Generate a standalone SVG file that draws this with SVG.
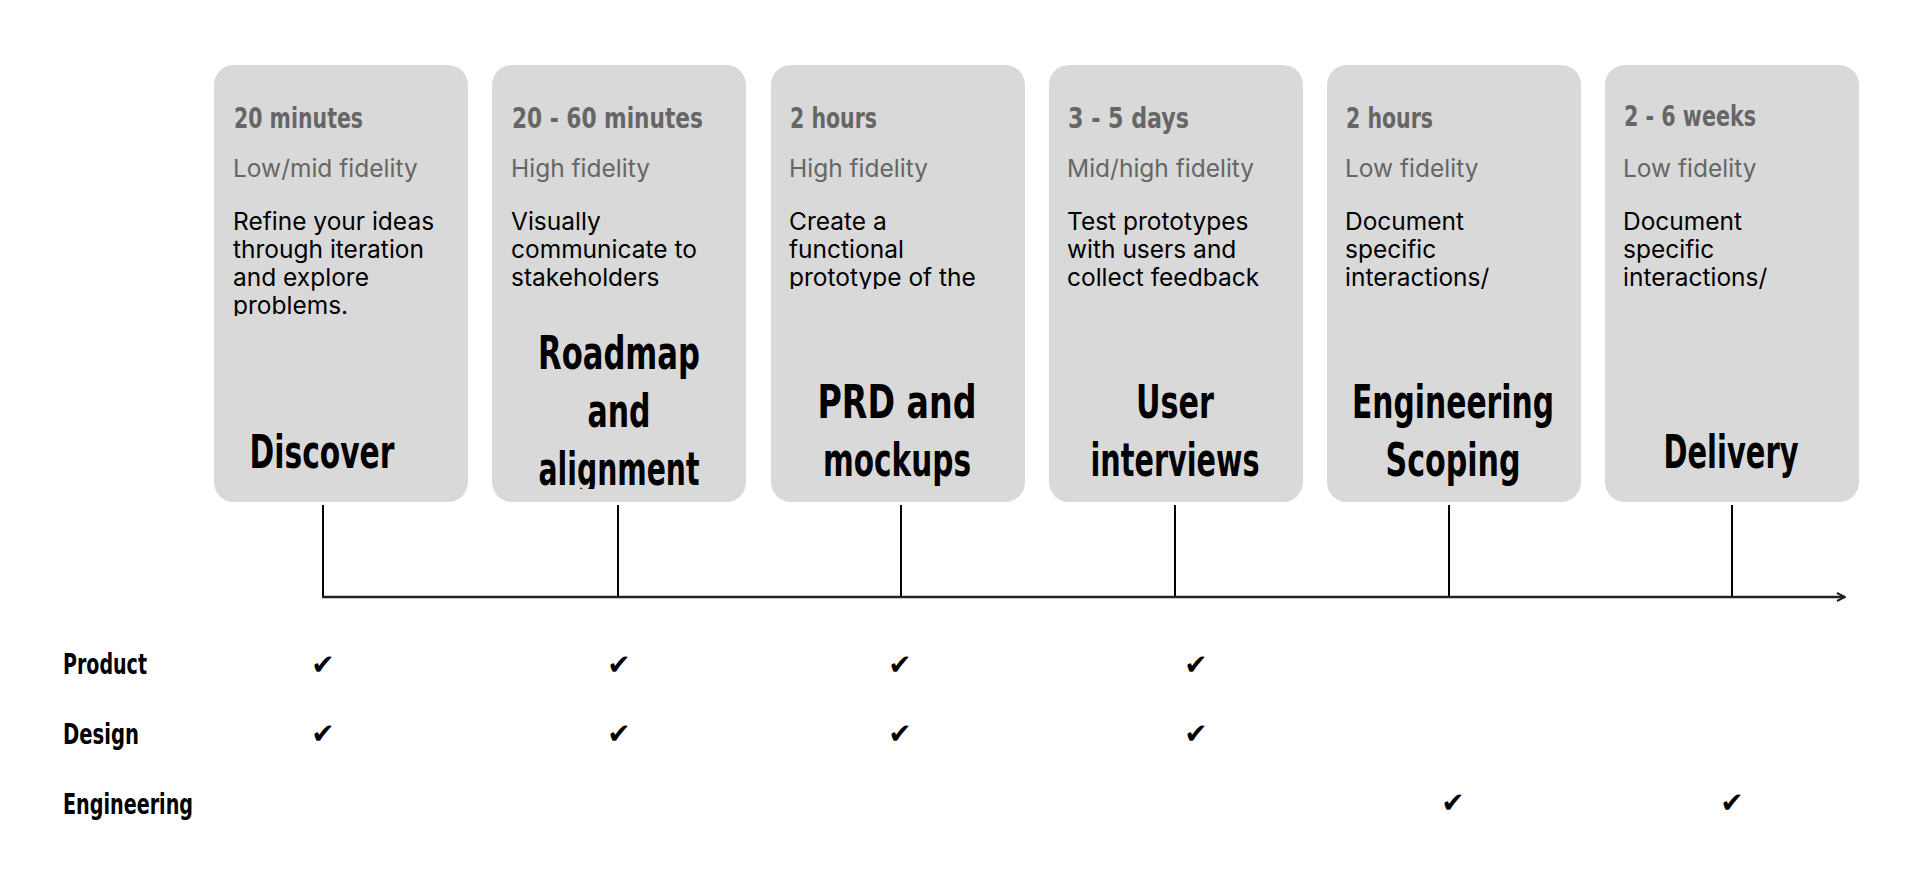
<svg xmlns="http://www.w3.org/2000/svg" width="1920" height="885" viewBox="0 0 1920 885">
<style>
.card{fill:#d9d9d9}
.dur{font-family:"DejaVu Sans Condensed","Liberation Sans",sans-serif;font-weight:bold;font-size:28px;fill:#666}
.fid{font-family:Inter,"Liberation Sans",sans-serif;font-size:24.5px;fill:#666}
.desc{font-family:Inter,"Liberation Sans",sans-serif;font-size:24.5px;fill:#000}
.title{font-family:"DejaVu Sans Condensed","Liberation Sans",sans-serif;font-weight:bold;font-size:46px;fill:#000;text-anchor:middle}
.role{font-family:"DejaVu Sans Condensed","Liberation Sans",sans-serif;font-weight:bold;font-size:29px;fill:#000}
.chk{font-family:"DejaVu Sans",sans-serif;font-size:28px;fill:#000;text-anchor:middle}
.tick{stroke:#000;stroke-width:2;fill:none}
.axis{stroke:#222;stroke-width:2.5;fill:none}
</style>
<defs>
<marker id="arr" viewBox="0 0 10 10" refX="9" refY="5" markerWidth="10" markerHeight="10" markerUnits="userSpaceOnUse" orient="auto">
<path d="M1,1 L9,5 L1,9" fill="none" stroke="#222" stroke-width="2"/>
</marker>
<clipPath id="cd1"><rect x="214" y="200" width="254" height="116"/></clipPath>
<clipPath id="cd2"><rect x="492" y="200" width="254" height="89"/></clipPath>
<clipPath id="cd3"><rect x="771" y="200" width="254" height="89"/></clipPath>
<clipPath id="cd4"><rect x="1049" y="200" width="254" height="89"/></clipPath>
<clipPath id="cd5"><rect x="1327" y="200" width="254" height="89"/></clipPath>
<clipPath id="cd6"><rect x="1605" y="200" width="254" height="89"/></clipPath>
<clipPath id="ct"><rect x="0" y="320" width="1920" height="169"/></clipPath>
</defs>
<rect width="1920" height="885" fill="#fff"/>

<g id="connectors">
<path class="tick" d="M323,505 V597"/>
<path class="tick" d="M618,505 V597"/>
<path class="tick" d="M901,505 V597"/>
<path class="tick" d="M1175,505 V597"/>
<path class="tick" d="M1449,505 V597"/>
<path class="tick" d="M1732,505 V597"/>
<path class="axis" d="M322,597 H1845" marker-end="url(#arr)"/>
</g>

<g id="card-discover">
<rect class="card" x="214" y="65" width="254" height="437" rx="20"/>
<text class="dur" x="234" y="128" textLength="129" lengthAdjust="spacingAndGlyphs">20 minutes</text>
<text class="fid" x="233" y="177">Low/mid fidelity</text>
<g clip-path="url(#cd1)">
<text class="desc" x="233" y="230">Refine your ideas</text>
<text class="desc" x="233" y="258">through iteration</text>
<text class="desc" x="233" y="286">and explore</text>
<text class="desc" x="233" y="314">problems.</text>
</g>
<text class="title" x="322" y="468" textLength="145" lengthAdjust="spacingAndGlyphs">Discover</text>
</g>

<g id="card-roadmap">
<rect class="card" x="492" y="65" width="254" height="437" rx="20"/>
<text class="dur" x="512" y="128" textLength="191" lengthAdjust="spacingAndGlyphs">20 - 60 minutes</text>
<text class="fid" x="511" y="177">High fidelity</text>
<g clip-path="url(#cd2)">
<text class="desc" x="511" y="230">Visually</text>
<text class="desc" x="511" y="258">communicate to</text>
<text class="desc" x="511" y="286">stakeholders</text>
</g>
<g clip-path="url(#ct)">
<text class="title" x="619" y="369" textLength="162" lengthAdjust="spacingAndGlyphs">Roadmap</text>
<text class="title" x="619" y="427" textLength="63" lengthAdjust="spacingAndGlyphs">and</text>
<text class="title" x="619" y="485" textLength="161" lengthAdjust="spacingAndGlyphs">alignment</text>
</g>
</g>

<g id="card-prd">
<rect class="card" x="771" y="65" width="254" height="437" rx="20"/>
<text class="dur" x="790" y="128" textLength="87" lengthAdjust="spacingAndGlyphs">2 hours</text>
<text class="fid" x="789" y="177">High fidelity</text>
<g clip-path="url(#cd3)">
<text class="desc" x="789" y="230">Create a</text>
<text class="desc" x="789" y="258">functional</text>
<text class="desc" x="789" y="286">prototype of the</text>
</g>
<g clip-path="url(#ct)">
<text class="title" x="897" y="418" textLength="159" lengthAdjust="spacingAndGlyphs">PRD and</text>
<text class="title" x="897" y="476" textLength="148" lengthAdjust="spacingAndGlyphs">mockups</text>
</g>
</g>

<g id="card-interviews">
<rect class="card" x="1049" y="65" width="254" height="437" rx="20"/>
<text class="dur" x="1068" y="128" textLength="121" lengthAdjust="spacingAndGlyphs">3 - 5 days</text>
<text class="fid" x="1067" y="177">Mid/high fidelity</text>
<g clip-path="url(#cd4)">
<text class="desc" x="1067" y="230">Test prototypes</text>
<text class="desc" x="1067" y="258">with users and</text>
<text class="desc" x="1067" y="286">collect feedback</text>
</g>
<g clip-path="url(#ct)">
<text class="title" x="1175" y="418" textLength="78" lengthAdjust="spacingAndGlyphs">User</text>
<text class="title" x="1175" y="476" textLength="169" lengthAdjust="spacingAndGlyphs">interviews</text>
</g>
</g>

<g id="card-scoping">
<rect class="card" x="1327" y="65" width="254" height="437" rx="20"/>
<text class="dur" x="1346" y="128" textLength="87" lengthAdjust="spacingAndGlyphs">2 hours</text>
<text class="fid" x="1345" y="177">Low fidelity</text>
<g clip-path="url(#cd5)">
<text class="desc" x="1345" y="230">Document</text>
<text class="desc" x="1345" y="258">specific</text>
<text class="desc" x="1345" y="286">interactions/</text>
</g>
<g clip-path="url(#ct)">
<text class="title" x="1453" y="418" textLength="202" lengthAdjust="spacingAndGlyphs">Engineering</text>
<text class="title" x="1453" y="476" textLength="135" lengthAdjust="spacingAndGlyphs">Scoping</text>
</g>
</g>

<g id="card-delivery">
<rect class="card" x="1605" y="65" width="254" height="437" rx="20"/>
<text class="dur" x="1624" y="126" textLength="132" lengthAdjust="spacingAndGlyphs">2 - 6 weeks</text>
<text class="fid" x="1623" y="177">Low fidelity</text>
<g clip-path="url(#cd6)">
<text class="desc" x="1623" y="230">Document</text>
<text class="desc" x="1623" y="258">specific</text>
<text class="desc" x="1623" y="286">interactions/</text>
</g>
<text class="title" x="1731" y="468" textLength="135" lengthAdjust="spacingAndGlyphs">Delivery</text>
</g>

<g id="role-product">
<text class="role" x="63" y="674" textLength="84" lengthAdjust="spacingAndGlyphs">Product</text>
<text class="chk" x="323" y="674">✔</text>
<text class="chk" x="619" y="674">✔</text>
<text class="chk" x="900" y="674">✔</text>
<text class="chk" x="1196" y="674">✔</text>
</g>
<g id="role-design">
<text class="role" x="63" y="744" textLength="76" lengthAdjust="spacingAndGlyphs">Design</text>
<text class="chk" x="323" y="743">✔</text>
<text class="chk" x="619" y="743">✔</text>
<text class="chk" x="900" y="743">✔</text>
<text class="chk" x="1196" y="743">✔</text>
</g>
<g id="role-engineering">
<text class="role" x="63" y="814" textLength="130" lengthAdjust="spacingAndGlyphs">Engineering</text>
<text class="chk" x="1453" y="812">✔</text>
<text class="chk" x="1732" y="812">✔</text>
</g>
</svg>
